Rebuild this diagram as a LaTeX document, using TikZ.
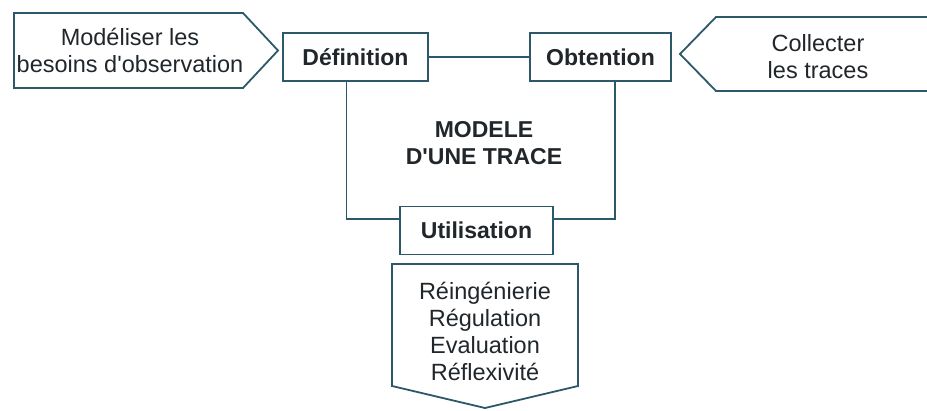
\documentclass[tikz,border=0pt]{standalone}
\usepackage{fontspec}
\setmainfont{Liberation Sans}
\definecolor{trait}{RGB}{45,88,105}
\definecolor{encre}{RGB}{32,38,42}
\begin{document}
\begin{tikzpicture}[x=1pt,y=-1pt,
		every node/.style={text=encre,font=\fontsize{23.5}{27}\selectfont,align=center,inner sep=0pt},
		etape/.style={draw=trait,line width=1.8pt,fill=white,font=\fontsize{23}{25}\selectfont\bfseries,minimum height=48pt},
		lien/.style={draw=trait,line width=1.8pt}]
		\useasboundingbox (0,0) rectangle (927,410);
		% les trois etapes
		\node [etape,minimum width=145pt] (def) at (355.5,57) {Définition};
		\node [etape,minimum width=141pt] (obt) at (600.5,57) {Obtention};
		\node [etape,minimum width=153pt] (util) at (476.5,230.5) {Utilisation};
		\node [font=\fontsize{23}{27}\selectfont\bfseries] (modele) at (484,143) {MODELE\\D\textquotesingle UNE TRACE};
		% liens
		\draw [lien] (def.east) -- (obt.west);
		\draw [lien] ([xshift=-9pt]def.south) |- ([yshift=11.5pt]util.west);
		\draw [lien] ([xshift=14.5pt]obt.south) |- ([yshift=11.5pt]util.east);
		% fleches
		\draw [lien] (14,13) -- (243,13) -- (278,50.5) -- (243,88) -- (14,88) -- cycle;
		\node (besoins) at (130,50.5) {Modéliser les\\besoins d\textquotesingle observation};
		\draw [lien] (927,17) -- (716,17) -- (680,54) -- (716,91) -- (927,91);
		\node (traces) at (818,57) {Collecter\\les traces};
		\draw [lien] (392,264) -- (578,264) -- (578,386) -- (485,408) -- (392,386) -- cycle;
		\node (usages) at (485,331) {Réingénierie\\Régulation\\Evaluation\\Réflexivité};
	\end{tikzpicture}
\end{document}
